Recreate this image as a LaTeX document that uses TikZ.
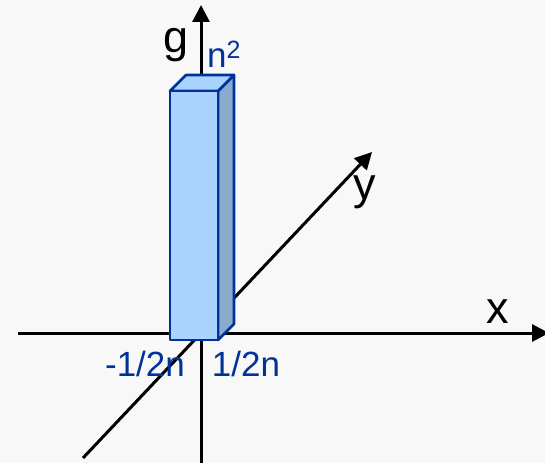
\documentclass[tikz,border=0pt]{standalone}
\usepackage{fontspec}
\setmainfont{Liberation Sans}
\usetikzlibrary{arrows.meta}
\definecolor{bg}{HTML}{F8F8F8}
\definecolor{boxblue}{HTML}{003399}
\definecolor{boxfront}{HTML}{AAD4FF}
\definecolor{boxside}{HTML}{8CAACC}
\tikzset{
	axis/.style={line width=3pt, -{Triangle[length=17pt, width=17pt]}},
	axislabel/.style={anchor=base, inner sep=0pt, font=\fontsize{45}{50}\selectfont},
	bluelabel/.style={anchor=base, inner sep=0pt, text=boxblue, font=\fontsize{35}{40}\selectfont},
	boxface/.style={draw=boxblue, line width=2.6pt, line join=round}
}
\begin{document}
\begin{tikzpicture}[x=1pt, y=1pt]
	% Hintergrund
	\fill[bg] (0,0) rectangle (545,463);
	\useasboundingbox (0,0) rectangle (545,463);
	
	% Achsen
	\coordinate (gstart) at (201,0);
	\coordinate (gend) at (201,458);
	\coordinate (xstart) at (18,130);
	\coordinate (xend) at (549,130);
	\coordinate (ystart) at (83,5);
	\coordinate (yend) at (372,311);
	\draw[axis] (gstart) -- (gend);
	\draw[axis] (xstart) -- (xend);
	\draw[axis] (ystart) -- (yend);
	
	% Saeule
	\draw[boxface, fill=boxside] (218,123) -- (234,139) -- (234,388) -- (218,372) -- cycle;
	\draw[boxface, fill=boxfront] (170,372) -- (186,388) -- (234,388) -- (218,372) -- cycle;
	\draw[boxface, fill=boxfront] (170,123) rectangle (218,372);
	
	% Beschriftung
	\node[axislabel] (glabel) at (176,410) {g};
	\node[axislabel] (xlabel) at (498,140) {x};
	\node[axislabel] (ylabel) at (365,263) {y};
	\node[bluelabel, anchor=base west] (height) at (207,395) {n\raisebox{9pt}{\fontsize{25}{28}\selectfont 2}};
	\node[bluelabel] (left) at (145,87) {-1/2n};
	\node[bluelabel] (right) at (246,87) {1/2n};
\end{tikzpicture}
\end{document}
